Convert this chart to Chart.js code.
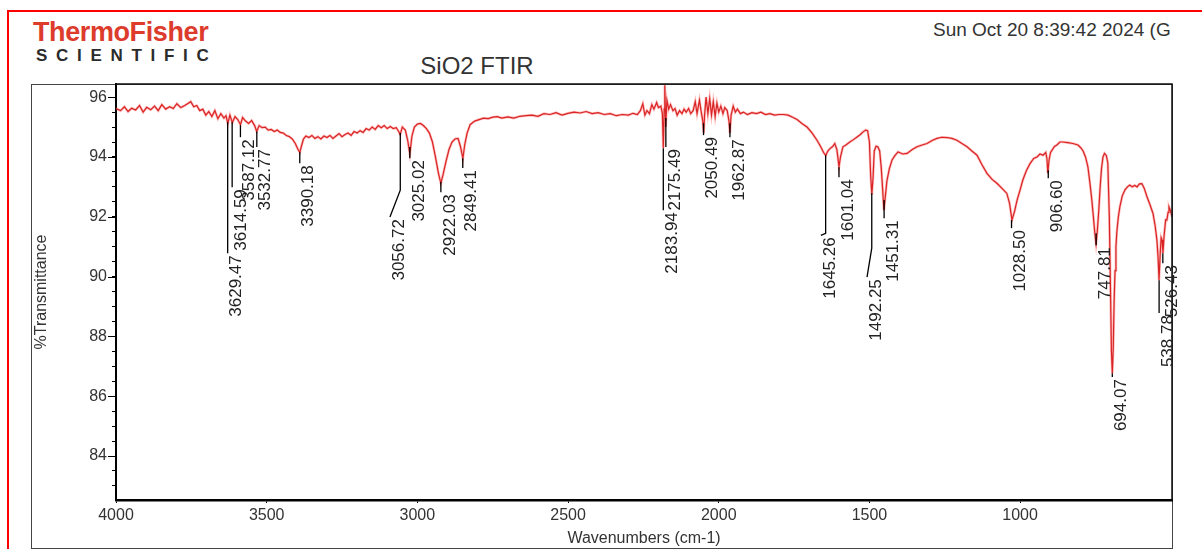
<!DOCTYPE html>
<html>
<head>
<meta charset="utf-8">
<title>SiO2 FTIR</title>
<script src="https://cdn.jsdelivr.net/npm/chart.js@4.4.1/dist/chart.umd.min.js"></script>
<style>
  html, body { margin: 0; padding: 0; background: #fff; }
  body { width: 1202px; height: 549px; position: relative; overflow: hidden; font-family: 'Liberation Sans', Arial, sans-serif; }
  .redframe { position: absolute; left: 7px; top: 10px; width: 1200px; height: 545px; border-left: 2px solid #f00; border-top: 2px solid #f00; }
  .frame { position: absolute; left: 31px; top: 84px; width: 1140px; height: 463px; border: 1px solid #444; }
  .thermo { position: absolute; left: 33px; top: 19px; font: bold 27px/27px 'Liberation Sans', Arial, sans-serif; color: #dd3b2c; letter-spacing: -0.4px; }
  .sci { position: absolute; left: 36px; top: 47px; font: bold 17px/17px 'Liberation Sans', Arial, sans-serif; color: #2b2b2b; letter-spacing: 8.7px; }
  .date { position: absolute; left: 933px; top: 20px; font: 19px/19px 'Liberation Sans', Arial, sans-serif; color: #333; white-space: nowrap; }
  .title { position: absolute; left: 377px; top: 54px; width: 200px; text-align: center; font: 24px/24px 'Liberation Sans', Arial, sans-serif; color: #333; }
  #wrap { position: absolute; left: 0; top: 0; width: 1202px; height: 549px; }
</style>
</head>
<body>
<div class="redframe"></div>
<div class="frame"></div>
<div class="thermo">ThermoFisher</div>
<div class="sci">SCIENTIFIC</div>
<div class="date">Sun Oct 20 8:39:42 2024 (G</div>
<div class="title">SiO2 FTIR</div>
<div id="wrap"><canvas id="chart"></canvas></div>
<script>
// spectrum (cm-1, %T)
const wavenumbers = [
  4000, 3985, 3972, 3960, 3948, 3935, 3922, 3910, 3898, 3885, 3872, 3860, 3848, 3835, 3822, 3810, 3798, 3785, 3772, 3760,
  3752, 3742, 3732, 3722, 3712, 3702, 3692, 3682, 3672, 3662, 3652, 3642, 3635, 3629, 3622, 3614, 3605, 3596, 3587, 3580,
  3570, 3560, 3550, 3540, 3533, 3525, 3515, 3505, 3495, 3485, 3475, 3465, 3455, 3445, 3435, 3425, 3415, 3405, 3396, 3390,
  3385, 3378, 3370, 3360, 3350, 3340, 3330, 3320, 3310, 3300, 3290, 3280, 3270, 3260, 3250, 3240, 3230, 3220, 3210, 3200,
  3190, 3180, 3170, 3160, 3150, 3140, 3130, 3120, 3110, 3100, 3090, 3080, 3070, 3062, 3057, 3050, 3040, 3032, 3025, 3018,
  3010, 3000, 2990, 2980, 2970, 2960, 2950, 2940, 2930, 2922, 2915, 2905, 2895, 2885, 2875, 2865, 2857, 2849, 2843, 2835,
  2825, 2810, 2795, 2780, 2765, 2750, 2735, 2720, 2700, 2680, 2660, 2640, 2620, 2600, 2580, 2560, 2540, 2520, 2500, 2480,
  2460, 2440, 2420, 2400, 2380, 2360, 2340, 2320, 2300, 2285, 2270, 2260, 2252, 2245, 2238, 2230, 2222, 2215, 2206, 2200,
  2192, 2187, 2184, 2181, 2179, 2176, 2172, 2166, 2160, 2152, 2145, 2138, 2130, 2122, 2115, 2108, 2100, 2093, 2085, 2078,
  2072, 2064, 2058, 2053, 2050, 2047, 2042, 2036, 2030, 2024, 2018, 2012, 2006, 2000, 1993, 1986, 1980, 1972, 1966, 1963,
  1959, 1952, 1945, 1938, 1928, 1918, 1905, 1890, 1875, 1860, 1845, 1830, 1815, 1800, 1785, 1770, 1755, 1740, 1724, 1707,
  1690, 1674, 1662, 1652, 1645, 1638, 1631, 1622, 1615, 1608, 1601, 1596, 1588, 1578, 1565, 1553, 1541, 1530, 1521, 1512,
  1506, 1500, 1496, 1492, 1488, 1484, 1478, 1472, 1466, 1461, 1456, 1452, 1448, 1442, 1434, 1425, 1415, 1405, 1390, 1375,
  1358, 1342, 1325, 1309, 1292, 1276, 1260, 1243, 1226, 1210, 1193, 1176, 1160, 1143, 1127, 1110, 1093, 1077, 1060, 1044,
  1035, 1027, 1018, 1010, 1000, 991, 979, 967, 955, 944, 934, 924, 915, 911, 908, 904, 899, 894, 886, 878,
  868, 858, 842, 825, 808, 798, 791, 783, 775, 768, 762, 756, 752, 748, 744, 739, 735, 730, 725, 720,
  714, 709, 704, 700, 697, 694, 691, 688, 685, 682, 679, 674, 669, 661, 652, 644, 636, 628, 620, 612,
  604, 596, 588, 579, 569, 559, 552, 546, 542, 539, 535, 532, 529, 526, 522, 517, 513, 509, 506, 501,
  496
]
const transmittance = [
  95.62, 95.55, 95.68, 95.52, 95.63, 95.57, 95.72, 95.5, 95.66, 95.58, 95.7, 95.55, 95.75, 95.6, 95.68, 95.62, 95.78, 95.65, 95.72, 95.8,
  95.85, 95.68, 95.72, 95.55, 95.6, 95.4, 95.52, 95.35, 95.55, 95.28, 95.45, 95.3, 95.38, 95.12, 95.4, 95.15, 95.35, 95.25, 95.08, 95.32,
  95.2, 95.12, 95.22, 95.05, 94.85, 95.05, 94.98, 95.0, 94.9, 94.92, 94.85, 94.9, 94.82, 94.8, 94.72, 94.68, 94.6, 94.45, 94.25, 94.15,
  94.35, 94.6, 94.7, 94.65, 94.72, 94.62, 94.68, 94.6, 94.7, 94.65, 94.72, 94.62, 94.7, 94.78, 94.68, 94.75, 94.8, 94.72, 94.85, 94.8,
  94.88, 94.82, 94.95, 94.9, 95.0, 94.92, 95.05, 94.98, 95.05, 94.95, 95.02, 94.95, 94.98, 94.85, 94.75, 95.0, 94.9, 94.55, 94.1, 94.7,
  95.0, 95.1, 95.12, 95.05, 94.95, 94.8, 94.5, 94.0, 93.45, 93.12, 93.4, 93.85, 94.25, 94.5, 94.6, 94.62, 94.35, 93.95, 94.4, 94.8,
  95.08, 95.2, 95.25, 95.3, 95.28, 95.33, 95.35, 95.3, 95.34, 95.3, 95.36, 95.38, 95.4, 95.36, 95.45, 95.42, 95.48, 95.4, 95.46, 95.5,
  95.47, 95.52, 95.45, 95.48, 95.42, 95.45, 95.38, 95.42, 95.4, 95.46, 95.42, 95.55, 95.78, 95.4, 95.55, 95.45, 95.75, 95.6, 95.82, 95.65,
  95.7, 95.45, 94.3, 95.6, 96.4, 95.0, 95.9, 95.6, 95.75, 95.55, 95.62, 95.4, 95.55, 95.45, 95.6, 95.5, 95.62, 95.45, 95.55, 95.85,
  95.45, 95.9, 95.5, 95.2, 94.8, 95.4, 96.0, 95.45, 95.95, 95.4, 95.85, 95.35, 95.8, 95.5, 95.7, 95.45, 95.65, 95.55, 95.2, 94.8,
  95.4, 95.7, 95.5, 95.6, 95.45, 95.5, 95.42, 95.48, 95.45, 95.5, 95.42, 95.45, 95.4, 95.42, 95.42, 95.4, 95.33, 95.25, 95.12, 95.0,
  94.8, 94.56, 94.35, 94.15, 94.05, 94.2, 94.28, 94.35, 94.45, 94.25, 93.67, 94.0, 94.34, 94.4, 94.5, 94.58, 94.67, 94.75, 94.84, 94.9,
  94.88, 94.5, 93.4, 92.75, 93.3, 94.2, 94.36, 94.34, 94.2, 93.67, 92.9, 92.22, 92.6, 93.2, 93.6, 93.9, 94.05, 94.17, 94.1, 94.12,
  94.25, 94.34, 94.4, 94.45, 94.55, 94.62, 94.66, 94.65, 94.62, 94.56, 94.45, 94.34, 94.2, 94.06, 93.75, 93.45, 93.25, 93.12, 92.95, 92.78,
  92.45, 91.89, 92.2, 92.56, 92.9, 93.23, 93.55, 93.78, 93.95, 94.0, 94.1, 94.06, 94.15, 93.95, 93.46, 93.9, 94.15, 94.23, 94.35, 94.4,
  94.5, 94.5, 94.48, 94.45, 94.4, 94.3, 94.2, 94.0, 93.67, 93.1, 92.56, 91.9, 91.44, 91.1, 91.5, 92.2, 92.9, 93.6, 94.0, 94.12,
  94.05, 93.8, 92.0, 89.5, 87.5, 86.77, 87.6, 89.2, 90.2, 91.0, 91.5, 92.0, 92.33, 92.7, 92.9, 93.0, 93.06, 93.0, 93.05, 93.0,
  93.1, 93.11, 92.95, 92.67, 92.4, 92.11, 91.7, 91.22, 90.6, 89.88, 90.8, 91.3, 91.22, 90.78, 91.4, 91.9, 91.89, 92.15, 92.33, 92.2,
  92.0
]

const xTickValues = [4000, 3500, 3000, 2500, 2000, 1500, 1000]
const yTickLabels = [84, 86, 88, 90, 92, 94, 96]
const yMinorStep = 0.5

// peak picks: where the leader starts, where it bends, where the text sits
const peakWavenumbers = [3629.47, 3614.59, 3587.12, 3532.77, 3390.18, 3056.72, 3025.02, 2922.03, 2849.41, 2183.94, 2175.49, 2050.49,
  1962.87, 1645.26, 1601.04, 1492.25, 1451.31, 1028.50, 906.60, 747.81, 694.07, 538.78, 526.43]
const peakTipT = [95.16, 95.16, 95.06, 94.85, 94.16, 94.8, 94.33, 93.16, 93.96, 94.29, 95.3, 95.13,
  95.13, 94.06, 93.66, 92.79, 92.56, 91.89, 93.56, 91.45, 86.77, 89.88, 90.78]
const leaderBendT = [90.78, 92.99, 94.66, 94.33, 93.79, 92.89, 93.96, 92.82, 93.63, 92.22, 94.33, 94.73,
  94.66, 91.45, 93.32, 90.95, 91.95, 91.62, 93.29, 91.05, 86.64, 88.78, 90.45]
const labelWn = [3629.47, 3614.59, 3587.12, 3532.77, 3390.18, 3091, 3025.02, 2922.03, 2849.41, 2183.94, 2175.49, 2050.49,
  1962.87, 1661, 1601.04, 1508, 1451.31, 1028.50, 906.60, 747.81, 694.07, 538.78, 526.43]
const labelT = [90.78, 92.99, 94.66, 94.33, 93.79, 91.99, 93.96, 92.82, 93.63, 92.22, 94.33, 94.73,
  94.66, 91.38, 93.32, 89.98, 91.95, 91.62, 93.29, 91.05, 86.64, 88.78, 90.45]

const FONT = "'Liberation Sans', Arial, sans-serif"
const points = wavenumbers.map((w, i) => ({ x: w, y: transmittance[i] }))

const peakMarks = {
  id: 'peakMarks',
  afterDatasetsDraw(chart) {
    const { ctx, chartArea: a, scales: { x, y } } = chart
    ctx.save()
    // top and right edge of the plot box
    ctx.strokeStyle = '#111'
    ctx.lineWidth = 1.5
    ctx.beginPath()
    ctx.moveTo(a.left, a.top)
    ctx.lineTo(a.right, a.top)
    ctx.lineTo(a.right, a.bottom)
    ctx.stroke()
    // labelled ticks are longer
    ctx.lineWidth = 1
    ctx.strokeStyle = '#000'
    ctx.beginPath()
    yTickLabels.forEach((v) => {
      const py = Math.round(y.getPixelForValue(v)) + 0.5
      ctx.moveTo(a.left - 8, py)
      ctx.lineTo(a.left, py)
    })
    ctx.stroke()
    // leaders
    ctx.lineWidth = 1.3
    peakWavenumbers.forEach((wn, i) => {
      const px = x.getPixelForValue(wn)
      ctx.beginPath()
      ctx.moveTo(px, y.getPixelForValue(peakTipT[i]))
      ctx.lineTo(px, y.getPixelForValue(leaderBendT[i]))
      ctx.lineTo(x.getPixelForValue(labelWn[i]), y.getPixelForValue(labelT[i]))
      ctx.stroke()
    })
    // rotated peak values
    ctx.fillStyle = '#222'
    ctx.font = '17px ' + FONT
    ctx.textAlign = 'right'
    ctx.textBaseline = 'middle'
    peakWavenumbers.forEach((wn, i) => {
      const lx = x.getPixelForValue(labelWn[i]) + 9
      const ly = y.getPixelForValue(labelT[i]) + 2
      ctx.save()
      ctx.translate(lx, ly)
      ctx.rotate(-Math.PI / 2)
      ctx.fillText(wn.toFixed(2), 0, 0)
      ctx.restore()
    })
    ctx.restore()
  },
}

const chart = new Chart(document.getElementById('chart'), {
  type: 'line',
  data: {
    datasets: [
      { data: points, borderColor: 'rgba(255, 60, 60, 0.35)', borderWidth: 2.6, pointRadius: 0, tension: 0 },
      { data: points, borderColor: '#c41818', borderWidth: 1.2, pointRadius: 0, tension: 0 },
    ],
  },
  options: {
    responsive: true,
    maintainAspectRatio: false,
    animation: false,
    events: [],
    layout: { padding: { left: 31, top: 84, right: 30, bottom: 1 } },
    plugins: { legend: { display: false }, tooltip: { enabled: false } },
    scales: {
      x: {
        type: 'linear',
        reverse: true,
        min: 496,
        max: 4000,
        afterFit: (s) => { s.height = 48 },
        afterBuildTicks: (s) => { s.ticks = xTickValues.map((v) => ({ value: v })) },
        border: { display: true, color: '#000', width: 2.5 },
        grid: { drawOnChartArea: false, drawTicks: true, tickLength: 3, color: '#000' },
        ticks: { autoSkip: false, maxRotation: 0, padding: 3, color: '#333', font: { family: FONT, size: 16 }, callback: (v) => String(v) },
        title: { display: true, text: 'Wavenumbers (cm-1)', color: '#333', padding: { top: 0, bottom: 0 }, font: { family: FONT, size: 16 } },
      },
      y: {
        min: 82.53,
        max: 96.44,
        afterFit: (s) => { s.width = 85 },
        afterBuildTicks: (s) => {
          const ticks = []
          for (let v = Math.ceil(s.min / yMinorStep) * yMinorStep; v <= s.max; v += yMinorStep) ticks.push({ value: v })
          s.ticks = ticks
        },
        border: { display: true, color: '#000', width: 2 },
        grid: { drawOnChartArea: false, drawTicks: true, tickLength: 4, color: '#000' },
        ticks: {
          autoSkip: false,
          padding: 5,
          color: '#333',
          font: { family: FONT, size: 16 },
          callback: (v) => (yTickLabels.some((t) => Math.abs(t - v) < 1e-6) ? String(Math.round(v)) : ''),
        },
        title: { display: true, text: '%Transmittance', color: '#333', padding: { top: 1, bottom: 0 }, font: { family: FONT, size: 16 } },
      },
    },
  },
  plugins: [peakMarks],
})
</script>
</body>
</html>
